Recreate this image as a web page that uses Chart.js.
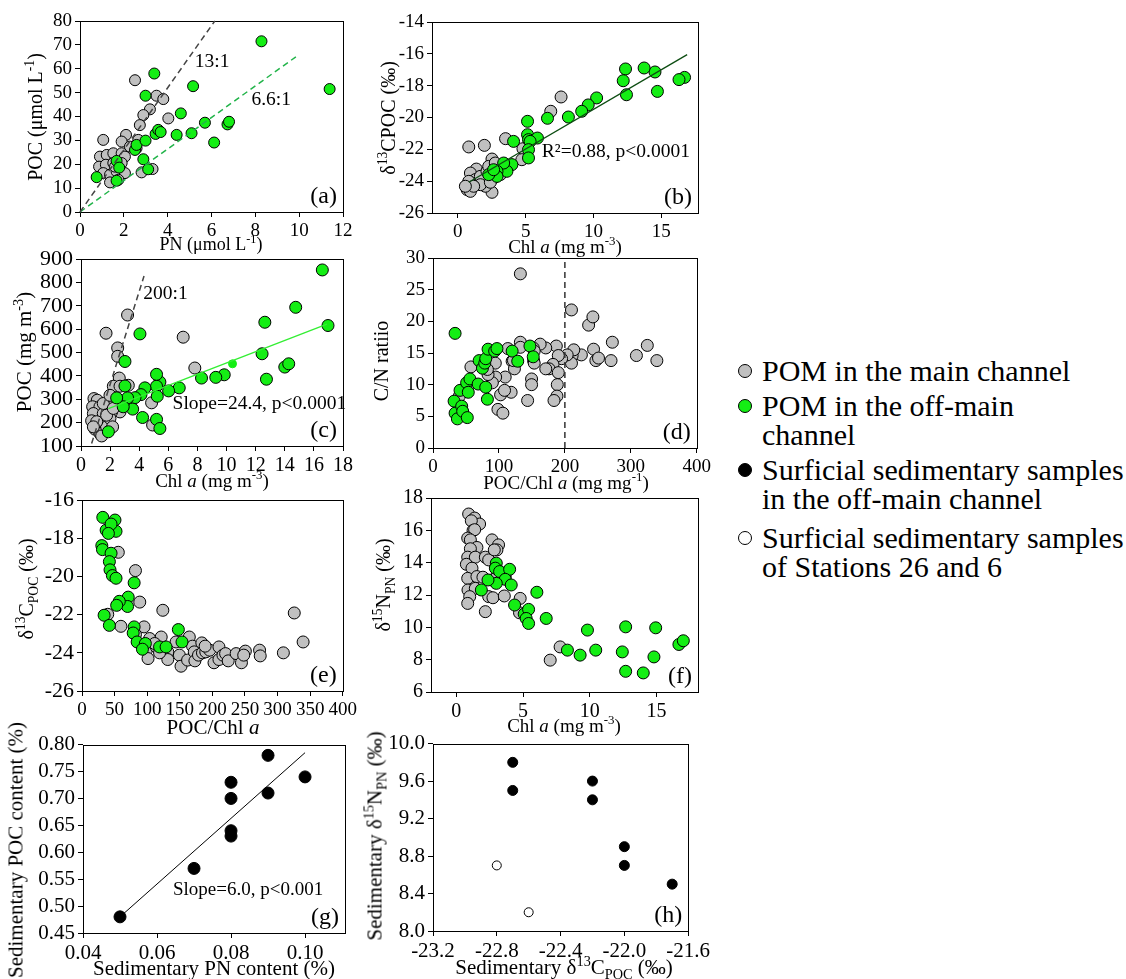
<!DOCTYPE html>
<html>
<head>
<meta charset="utf-8">
<script src="https://cdn.jsdelivr.net/npm/chart.js@4.4.0/dist/chart.umd.min.js"></script>
<style>
  body { margin: 0; background: #fff; }
  #page { position: relative; width: 1126px; height: 979px; font-family: "Liberation Serif", "Times New Roman", serif; color: #000; overflow: hidden; }
  #page canvas { position: absolute; }
  .tt { position: absolute; white-space: nowrap; line-height: 1; transform: translate(-50%, -50%); }
  .tt.v { transform: translate(-50%, -50%) rotate(-90deg); }
  sup, sub { font-size: 0.68em; line-height: 0; }
  .li { position: absolute; left: 762px; font-size: 30px; line-height: 29px; white-space: nowrap; }
  .mk { position: absolute; left: -24px; top: 8px; width: 12px; height: 12px; border: 1px solid #000; border-radius: 50%; box-sizing: content-box; }
</style>
</head>
<body>
<div id="page"></div>
<script>
// ---- data ----
// (a) POC vs PN
const aMain = [[2.51,55.2],[1.06,30.2],[2.1,32.3],[3.19,43],[2.89,40.6],[3.49,48.7],[3.8,47.3],[4.03,39.2],[2.73,36.4],[2.66,30.2],[2.58,26.7],[1.9,29.5],[0.91,23.2],[1.22,23.9],[1.6,23.2],[1.52,24.6],[1.9,24.6],[2.05,23.2],[0.87,19],[1.18,19.8],[1.52,20.5],[1.9,20.5],[1.06,16.3],[1.37,15.6],[1.67,17],[2.05,16.3],[1.37,12.4],[1.75,13.5],[2.81,16.6],[3.31,18],[1.6,19],[2.28,27.4]];
const aOff = [[0.76,14.6],[1.67,21.4],[1.79,18.6],[1.67,13.1],[2.51,26],[2.58,28.1],[2.89,22.1],[3.11,17.9],[2.99,29.9],[2.99,48.7],[3.39,58],[3.45,32.7],[3.57,34.4],[3.68,33.5],[4.41,32.3],[4.6,41.3],[5.09,33],[5.16,52.7],[5.7,37.4],[6.12,29.1],[6.73,36.7],[6.8,37.8],[8.28,71.5],[11.39,51.5]];
const aLine13 = [[0,0],[6.15,80]];
const aLine66 = [[0,0],[9.85,65]];
const aXTicks = [0,2,4,6,8,10,12];
const aYTicks = [0,10,20,30,40,50,60,70,80];

// (b) d13C-POC vs Chl a
const bMain = [[0.81,-21.85],[1.96,-21.75],[3.52,-21.33],[7.61,-18.71],[6.85,-19.61],[4.8,-21.96],[4.72,-22.65],[2.52,-22.61],[2.52,-24.7],[2.03,-24.32],[1.37,-23.24],[0.93,-23.49],[0.69,-24.53],[1.05,-24.12],[1.3,-23.9],[1.66,-23.7],[0.81,-24.01],[2.15,-23.38],[2.64,-23.8],[3.13,-23.59],[0.93,-24.64],[1.66,-24.22],[2.4,-24.07],[1.17,-24.32],[0.56,-24.32],[2.28,-23.07],[2.76,-22.86]];
const bOff = [[16.71,-17.48],[16.3,-17.62],[14.53,-17.14],[13.73,-16.89],[14.71,-18.36],[12.36,-16.95],[12.19,-17.69],[12.43,-18.57],[10.23,-18.77],[9.61,-19.21],[9.13,-19.61],[8.15,-19.97],[6.61,-20.05],[5.14,-20.24],[5.14,-21.08],[5.21,-21.39],[5.87,-21.29],[5.33,-21.5],[4.11,-21.5],[5.21,-22.02],[5.21,-22.54],[3.99,-22.96],[3.62,-23.38],[3.38,-22.86],[2.89,-23.38],[2.89,-23.7],[2.28,-23.59],[2.64,-23.28]];
const bFit = [[0.81,-24.07],[16.9,-16.05]];
const bXTicks = [0,5,10,15];
const bYTicks = [-26,-24,-22,-20,-18,-16,-14];

// (c) POC vs Chl a
const cMain = [[1.72,583],[3.2,661],[7.02,566],[7.82,434],[2.52,520],[2.52,484],[2.63,391],[2.22,356],[2.68,356],[3.25,360],[4.85,285],[4.92,190],[2.68,246],[1.99,282],[2.1,246],[0.89,303],[1.12,296],[0.8,268],[1.3,268],[0.85,239],[1.53,239],[0.73,208],[1.26,197],[0.96,172],[1.3,154],[1.42,143],[1.76,182],[1.99,218],[2.17,182],[1.76,232],[1.53,282],[2.22,261],[1.99,317],[1.08,204],[0.85,182]];
const cOff = [[16.58,854],[16.97,616],[14.75,694],[12.63,630],[12.44,495],[12.74,386],[14.0,438],[14.27,452],[9.84,405],[9.26,394],[8.28,391],[6.75,349],[6.02,336],[5.42,374],[5.19,356],[5.19,407],[5.24,313],[5.19,214],[5.42,175],[4.23,222],[4.39,349],[4.12,320],[3.71,307],[3.2,306],[3.55,258],[2.9,268],[3.02,357],[3.02,462],[4.05,580],[2.45,306],[1.88,161]];
const cMid = [[10.41,452]];
const cLine200 = [[0.73,111],[4.33,828]];
const cFit = [[1.88,260],[16.9,622]];
const cXTicks = [0,2,4,6,8,10,12,14,16,18];
const cYTicks = [100,200,300,400,500,600,700,800,900];

// (d) C/N vs POC/Chl a
const dMain = [[132.5,27.5],[210,21.8],[236,19.4],[242.5,20.7],[243.5,15.6],[247,13.8],[251,14.2],[272,16.7],[270,13.8],[308.5,14.6],[325,16.2],[339.5,13.8],[225,14.7],[211,14.6],[213.5,15.5],[210,13.4],[203.5,14.7],[195,14.1],[187,16.1],[190,14.6],[171,15.8],[162.5,16.4],[152,15.8],[132.5,16.7],[132.5,15.9],[113.5,15.7],[120,13.7],[123.5,12.5],[152.5,13.8],[153.5,13.4],[182,13.2],[176,12.5],[171,12.5],[190,11.9],[188.5,10],[188,8.2],[183.5,7.5],[149.5,10.9],[149.5,10],[143.5,7.5],[118.5,8.8],[109.5,11.2],[102.5,8.4],[98.5,6.1],[106,5.5],[95,11.2],[90,10.3],[94.5,13.4],[83.5,11.6],[82.5,12.4],[57.5,12.8],[56,10.2],[40,8.2],[108.5,9.1],[122,13.8],[153.5,15.3]];
const dOff = [[33.5,18.1],[32,7.4],[33.5,5.5],[37,4.6],[41,9.1],[43.5,6.6],[45,5.8],[52,4.8],[51,10.3],[53.5,8.8],[56,10.9],[68.5,10.1],[70,13.8],[75,12.6],[78.5,13.4],[80,14.1],[83.5,15.6],[80,9.6],[82.5,7.7],[93.5,15.3],[97,15.7],[120,15.3],[128.5,13.7],[147,16.1],[152,14.4]];
const dLine200 = [[200,0],[200,30]];
const dXTicks = [0,100,200,300,400];
const dYTicks = [0,5,10,15,20,25,30];

// (e) d13C-POC vs POC/Chl a
const eMain = [[55.7,-18.73],[82,-19.69],[88.6,-21.34],[124,-21.77],[39.5,-21.98],[59.7,-22.61],[95.2,-22.64],[82,-23.04],[103.8,-23.25],[121.5,-23.17],[98.7,-23.86],[101.3,-24.3],[114,-23.69],[131.6,-23.95],[131.6,-24.35],[144.3,-23.43],[149.4,-24.12],[151.9,-24.7],[164.6,-23.17],[162,-24.38],[169.6,-23.65],[172.2,-23.95],[173.2,-24.42],[178.7,-24.12],[183.8,-23.48],[184.8,-24],[189.9,-23.95],[195.9,-23.86],[188.9,-23.65],[202.5,-24.52],[210.1,-24.35],[210.1,-23.69],[216.2,-24.12],[220.3,-24.04],[224.3,-24.42],[236.5,-24.04],[244.6,-24.52],[250.6,-23.91],[248.1,-24.12],[272.4,-23.86],[273.4,-24.16],[308.9,-24],[325.6,-21.91],[339.2,-23.43],[119,-24],[111.4,-23.51]];
const eOff = [[31.9,-16.9],[50.6,-17.04],[37,-17.57],[52.2,-17.63],[44.6,-17.25],[40.5,-17.74],[30.4,-18.38],[31.4,-18.59],[44.6,-18.78],[42,-19.22],[43,-19.65],[46.6,-19.95],[52.2,-20.09],[80,-20.33],[70.9,-21.08],[69.9,-21.57],[57.2,-21.3],[53.2,-21.51],[33.9,-22.03],[42,-22.56],[80,-22.64],[78.5,-22.96],[84.6,-23.43],[97.2,-23.51],[92.7,-23.81],[119,-23.69],[129,-23.69],[147.8,-22.78],[153.4,-23.43]];
const eXTicks = [0,50,100,150,200,250,300,350,400];
const eYTicks = [-26,-24,-22,-20,-18,-16];

// (f) d15N-PN vs Chl a
const fMain = [[0.92,17.01],[1.37,16.76],[1.74,16.39],[1.12,16.59],[1.25,15.99],[1.37,16.04],[0.85,15.52],[1.05,15.41],[1.54,14.94],[1.05,14.86],[0.85,14.34],[1.42,14.34],[0.75,13.9],[1.17,13.66],[0.85,13.03],[1.54,13.14],[1.99,13.1],[0.87,12.31],[1.42,12.41],[1,11.9],[0.85,11.48],[2.17,10.97],[2.17,14.34],[2.42,14.17],[2.67,15.41],[3.16,15.1],[3.04,14.79],[2.84,14.79],[2.42,11.9],[2.74,11.83],[3.59,11.94],[4.78,11.79],[4.73,10.9],[7.77,8.79],[7.03,7.97],[2.67,12.93],[3.04,13.14],[3.66,13.14]];
const fOff = [[2.99,13.97],[2.92,13.66],[3.24,13.45],[3.99,13.59],[3.66,12.97],[2.99,12.72],[2.37,12.93],[4.11,12.62],[1.87,12.31],[4.36,11.38],[5.08,10.82],[5.41,11.11],[5.23,10.55],[5.41,10.24],[6.03,12.17],[6.73,10.55],[8.32,8.59],[9.27,8.28],[9.82,9.83],[10.44,8.59],[12.43,8.48],[12.68,10.03],[12.68,7.28],[14.0,7.18],[14.8,8.17],[14.93,9.97],[16.67,8.94],[17,9.17]];
const fXTicks = [0,5,10,15];
const fYTicks = [6,8,10,12,14,16,18];

// (g) sedimentary POC vs PN
const gSed = [[0.05,0.48],[0.07,0.57],[0.08,0.73],[0.08,0.70],[0.08,0.64],[0.08,0.63],[0.09,0.78],[0.09,0.71],[0.10,0.74]];
const gFit = [[0.05,0.48],[0.10,0.785]];
const gXTicks = [0.04,0.06,0.08,0.10];
const gYTicks = [0.45,0.50,0.55,0.60,0.65,0.70,0.75,0.80];

// (h) sedimentary d15N vs d13C
const hSed = [[-22.7,9.8],[-22.7,9.5],[-22.2,9.6],[-22.2,9.4],[-22.0,8.9],[-22.0,8.7],[-21.7,8.5]];
const hStations = [[-22.8,8.7],[-22.6,8.2]];
const hXTicks = [-23.2,-22.8,-22.4,-22.0,-21.6];
const hYTicks = [8.0,8.4,8.8,9.2,9.6,10.0];

// ---- styling ----
const FONT = '"Liberation Serif", "Times New Roman", serif';
const GRAY = '#c0c0c0';
const GREEN = '#14ee14';
Chart.defaults.font.family = FONT;
Chart.defaults.color = '#000';

const page = document.getElementById('page');

function pts(arr) { return arr.map(p => ({ x: p[0], y: p[1] })); }

function dots(arr, fill, r, order, border) {
  return {
    data: pts(arr), backgroundColor: fill, borderColor: border || '#000', borderWidth: 1,
    pointRadius: r, pointHoverRadius: r, order: order, clip: false
  };
}

function seg(arr, color, dash, width) {
  return {
    data: pts(arr), showLine: true, borderColor: color, borderWidth: width || 1.5,
    borderDash: dash || [], pointRadius: 0, pointHoverRadius: 0, fill: false, order: 0, clip: false
  };
}

function axis(min, max, ticks, fmt, isX, size) {
  return {
    type: 'linear', min: min, max: max,
    afterBuildTicks: s => { s.ticks = ticks.map(v => ({ value: v })); },
    afterFit: s => { if (isX) s.height = 40; else s.width = 80; },
    grid: { display: true, drawOnChartArea: false, drawTicks: true, tickLength: 5, color: '#000', lineWidth: 1 },
    border: { display: false },
    ticks: { font: { size: size || 18 }, color: '#000', padding: 3, maxRotation: 0, autoSkip: false, callback: v => fmt(v) }
  };
}

// box around the plot area, annotations and panel letter
const framePlugin = {
  id: 'frame',
  beforeDatasetsDraw(chart) {
    const a = chart.chartArea, ctx = chart.ctx;
    ctx.save();
    ctx.strokeStyle = '#000';
    ctx.lineWidth = 1;
    ctx.strokeRect(Math.round(a.left) + 0.5, Math.round(a.top) + 0.5, Math.round(a.right - a.left), Math.round(a.bottom - a.top));
    ctx.restore();
  },
  afterDatasetsDraw(chart, args, opts) {
    const a = chart.chartArea, ctx = chart.ctx;
    const sx = chart.scales.x, sy = chart.scales.y;
    ctx.save();
    ctx.fillStyle = '#000';
    (opts.notes || []).forEach(n => {
      ctx.font = (n.size || 19.5) + 'px ' + FONT;
      ctx.textAlign = 'left';
      ctx.textBaseline = 'middle';
      ctx.fillText(n.text, sx.getPixelForValue(n.x), sy.getPixelForValue(n.y));
    });
    if (opts.tag) {
      ctx.font = '24px ' + FONT;
      ctx.textAlign = 'right';
      ctx.textBaseline = 'alphabetic';
      ctx.fillText(opts.tag, a.right - 6, a.bottom - 9);
    }
    ctx.restore();
  }
};

function panel(box, datasets, xs, ys, frame) {
  const c = document.createElement('canvas');
  const w = box.r - box.l + 80 + 15, h = box.b - box.t + 15 + 40;
  c.width = w; c.height = h;
  c.style.left = (box.l - 80) + 'px';
  c.style.top = (box.t - 15) + 'px';
  c.style.width = w + 'px'; c.style.height = h + 'px';
  page.appendChild(c);
  new Chart(c, {
    type: 'scatter',
    data: { datasets: datasets },
    options: {
      responsive: false, animation: false, devicePixelRatio: 1,
      layout: { padding: { left: 0, top: 15, right: 15, bottom: 0 } },
      scales: { x: xs, y: ys },
      plugins: { legend: { display: false }, tooltip: { enabled: false }, frame: frame }
    },
    plugins: [framePlugin]
  });
}

function title(html, cx, cy, size, vertical) {
  const d = document.createElement('div');
  d.className = 'tt' + (vertical ? ' v' : '');
  d.style.left = cx + 'px';
  d.style.top = cy + 'px';
  d.style.fontSize = size + 'px';
  d.innerHTML = html;
  page.appendChild(d);
}

const plain = v => String(v);
const f2 = v => v.toFixed(2);
const f1 = v => v.toFixed(1);

// (a)
panel({ l: 80, t: 21, r: 343, b: 212 }, [
  seg(aLine13, '#444', [6, 4], 1.5),
  seg(aLine66, '#22b44a', [6, 4], 1.5),
  dots(aOff, GREEN, 5.5, 1),
  dots(aMain, GRAY, 5.5, 2)
], axis(0, 12, aXTicks, plain, true, 19), axis(0, 80, aYTicks, plain, false, 19),
{ tag: '(a)', notes: [{ text: '13:1', x: 5.24, y: 63 }, { text: '6.6:1', x: 7.82, y: 46.9 }] });

// (b)
panel({ l: 432, t: 22, r: 698, b: 213 }, [
  seg(bFit, '#0d4d12', [], 1.3),
  dots(bOff, GREEN, 6, 1),
  dots(bMain, GRAY, 6, 2)
], axis(-1.9, 17.7, bXTicks, plain, true, 19), axis(-26, -14, bYTicks, plain, false, 19),
{ tag: '(b)', notes: [{ text: 'R\u00b2=0.88, p<0.0001', x: 6.19, y: -22.19 }] });

// (c)
panel({ l: 81, t: 258, r: 343, b: 446 }, [
  seg(cLine200, '#444', [6, 4], 1.5),
  seg(cFit, '#33ee33', [], 1.3),
  dots(cMid, GREEN, 4, 0, GREEN),
  dots(cOff, GREEN, 6, 1),
  dots(cMain, GRAY, 6, 2)
], axis(0, 18, cXTicks, plain, true, 20), axis(100, 900, cYTicks, plain, false, 22),
{ tag: '(c)', notes: [{ text: '200:1', x: 4.28, y: 751 }, { text: 'Slope=24.4, p<0.0001', x: 6.29, y: 282 }] });

// (d)
panel({ l: 433, t: 258, r: 699, b: 448 }, [
  seg(dLine200, '#333', [6, 4], 1.5),
  dots(dOff, GREEN, 6, 1),
  dots(dMain, GRAY, 6, 2)
], axis(0, 400, dXTicks, plain, true, 19), axis(0, 30, dYTicks, plain, false, 19),
{ tag: '(d)', notes: [] });

// (e)
panel({ l: 82, t: 499, r: 345, b: 691 }, [
  dots(eOff, GREEN, 6, 1),
  dots(eMain, GRAY, 6, 2)
], axis(0, 400, eXTicks, plain, true, 19), axis(-26, -16, eYTicks, plain, false, 22),
{ tag: '(e)', notes: [] });

// (f)
panel({ l: 431, t: 498, r: 698, b: 692 }, [
  dots(fOff, GREEN, 6, 1),
  dots(fMain, GRAY, 6, 2)
], axis(-1.9, 18.1, fXTicks, plain, true, 20), axis(6, 18, fYTicks, plain, false, 20),
{ tag: '(f)', notes: [] });

// (g)
panel({ l: 83, t: 744, r: 345, b: 933 }, [
  seg(gFit, '#000', [], 1),
  dots(gSed, '#000', 6, 1)
], axis(0.04, 0.1108, gXTicks, f2, true, 21), axis(0.45, 0.80, gYTicks, f2, false, 21),
{ tag: '(g)', notes: [{ text: 'Slope=6.0, p<0.001', x: 0.0643, y: 0.529, size: 19 }] });

// (h)
panel({ l: 433, t: 743, r: 698, b: 931 }, [
  dots(hSed, '#000', 5, 1),
  dots(hStations, '#fff', 4.5, 2)
], axis(-23.2, -21.6, hXTicks, f1, true, 21), axis(8, 10, hYTicks, f1, false, 21),
{ tag: '(h)', notes: [] });

// axis titles
title('PN (\u03bcmol L<sup>-1</sup>)', 211, 244, 18, false);
title('POC (\u03bcmol L<sup>-1</sup>)', 35, 117, 20, true);
title('\u03b4<sup>13</sup>CPOC (\u2030)', 388, 118, 20, true);
title('Chl <i>a</i> (mg m<sup>-3</sup>)', 565, 246, 19, false);
title('POC (mg m<sup>-3</sup>)', 24, 352, 21, true);
title('Chl <i>a</i> (mg m<sup>-3</sup>)', 212, 480, 19, false);
title('C/N ratiio', 381, 361, 20, true);
title('POC/Chl <i>a</i> (mg mg<sup>-1</sup>)', 566, 482, 19, false);
title('\u03b4<sup>13</sup>C<sub>POC</sub> (\u2030)', 26, 589, 20, true);
title('POC/Chl <i>a</i>', 213, 727, 21, false);
title('\u03b4<sup>15</sup>N<sub>PN</sub> (\u2030)', 383, 585, 20, true);
title('Chl <i>a</i> (mg m<sup>-3</sup>)', 564, 725, 19, false);
title('Sedimentary POC content (%)', 16, 850, 21, true);
title('Sedimentary PN content (%)', 214, 968, 21, false);
title('Sedimentary \u03b4<sup>15</sup>N<sub>PN</sub> (\u2030)', 375, 836, 21, true);
title('Sedimentary \u03b4<sup>13</sup>C<sub>POC</sub> (\u2030)', 564, 967, 21, false);

// legend
const legendItems = [
  { top: 356, fill: GRAY, html: 'POM in the main channel' },
  { top: 391, fill: GREEN, html: 'POM in the off-main<br>channel' },
  { top: 455, fill: '#000', html: 'Surficial sedimentary samples<br>in the off-main channel' },
  { top: 523, fill: '#fff', html: 'Surficial sedimentary samples<br>of Stations 26 and 6' }
];
legendItems.forEach(it => {
  const d = document.createElement('div');
  d.className = 'li';
  d.style.top = it.top + 'px';
  d.innerHTML = '<span class="mk" style="background:' + it.fill + '"></span>' + it.html;
  page.appendChild(d);
});
</script>
</body>
</html>
